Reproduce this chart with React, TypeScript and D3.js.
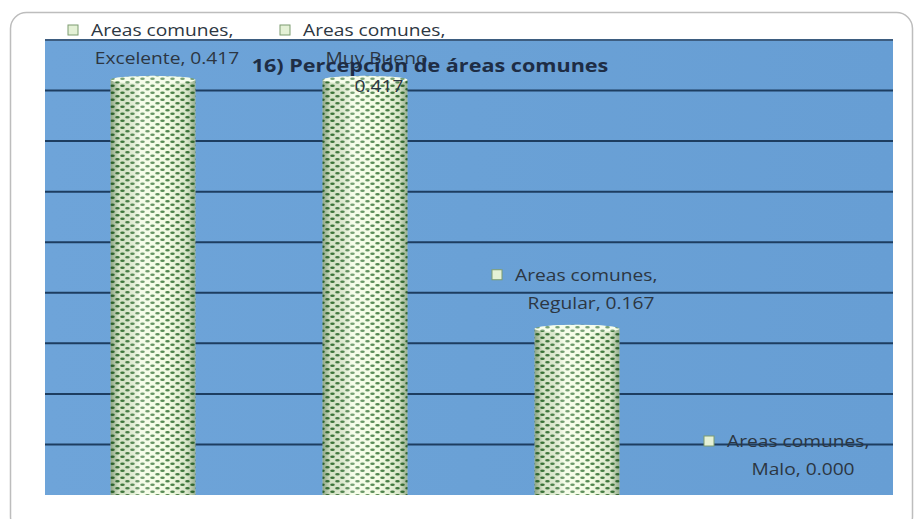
import React from "react";
import * as d3 from "d3";

const seriesName = "Areas comunes";
const categories = ["Excelente", "Muy Bueno", "Regular", "Malo"];
const values = [0.417, 0.417, 0.167, 0.0];
const wrapLabel = [false, true, false, false];
const yMax = 0.45;
const yTickStep = 0.05;
const title = "16) Percepción de áreas comunes";

const W = 915;
const H = 519;
const plot = { left: 45, right: 893, top: 40, bottom: 495 };
const frontTop = 47; // 3D front plane, bars sit slightly lower than the back wall
const SX = 1.2;
const FONT = "'Open Sans', 'DejaVu Sans', sans-serif";
const TEXT = "#2c3642";

export default function App() {
  const x = d3
    .scaleBand<string>()
    .domain(categories)
    .range([plot.left + 2, plot.right + 2])
    .paddingInner(0.6)
    .paddingOuter(0.3);
  const y = d3.scaleLinear().domain([0, yMax]).range([plot.bottom, plot.top]);
  const yBar = d3.scaleLinear().domain([0, yMax]).range([plot.bottom, frontTop]);
  const ticks = d3.range(yTickStep, yMax - 1e-9, yTickStep);
  const bw = x.bandwidth();
  const ry = 4;

  const sText = (
    tx: number,
    ty: number,
    s: string,
    anchor: string,
    opts: any = {}
  ) => (
    <text
      transform={`translate(${tx},${ty}) scale(${opts.sx ?? SX},1)`}
      textAnchor={anchor}
      fontFamily={FONT}
      fontSize={opts.size ?? 16}
      fontWeight={opts.weight ?? "normal"}
      fill={opts.fill ?? TEXT}
      dominantBaseline="central"
    >
      {s}
    </text>
  );

  return (
    <svg
      width={W}
      height={H}
      style={{ position: "absolute", left: 0, top: 0, background: "#fff" }}
    >
      <defs>
        <pattern id="dots" width={10} height={7} patternUnits="userSpaceOnUse">
          <rect width={10} height={7} fill="#f3fce2" />
          <ellipse cx={2.5} cy={1.8} rx={2.3} ry={1.3} fill="#3f7a3c" />
          <ellipse cx={7.5} cy={5.3} rx={2.3} ry={1.3} fill="#3f7a3c" />
        </pattern>
        <linearGradient id="cyl" x1="0" x2="1" y1="0" y2="0">
          <stop offset="0%" stopColor="#0f3a10" stopOpacity={0.45} />
          <stop offset="10%" stopColor="#0f3a10" stopOpacity={0.12} />
          <stop offset="35%" stopColor="#ffffff" stopOpacity={0.3} />
          <stop offset="65%" stopColor="#ffffff" stopOpacity={0.1} />
          <stop offset="90%" stopColor="#0f3a10" stopOpacity={0.12} />
          <stop offset="100%" stopColor="#0f3a10" stopOpacity={0.4} />
        </linearGradient>
        <linearGradient id="plotbg" x1="0" x2="1" y1="0" y2="0">
          <stop offset="0%" stopColor="#6ea4d9" />
          <stop offset="50%" stopColor="#6aa1d6" />
          <stop offset="100%" stopColor="#679ed4" />
        </linearGradient>
      </defs>

      <rect
        x={10.5}
        y={12.5}
        width={902}
        height={520}
        rx={16}
        fill="#fff"
        stroke="#bdbdbd"
        strokeWidth={1.5}
      />

      <rect
        x={plot.left}
        y={plot.top}
        width={plot.right - plot.left}
        height={plot.bottom - plot.top}
        fill="url(#plotbg)"
      />
      <line
        x1={plot.left}
        x2={plot.right}
        y1={plot.top}
        y2={plot.top}
        stroke="#3d5d80"
        strokeWidth={2}
      />
      {ticks.map((t) => (
        <line
          key={t}
          x1={plot.left}
          x2={plot.right}
          y1={y(t)}
          y2={y(t)}
          stroke="#1d3d60"
          strokeWidth={2}
        />
      ))}

      {categories.map((c, i) => {
        const x0 = x(c)!;
        const top = yBar(values[i]);
        const h = plot.bottom - top;
        if (h <= 0.5) return null;
        return (
          <g key={c}>
            <rect x={x0} y={top} width={bw} height={h} fill="url(#dots)" />
            <rect x={x0} y={top} width={bw} height={h} fill="url(#cyl)" />
            <ellipse
              cx={x0 + bw / 2}
              cy={top}
              rx={bw / 2}
              ry={ry}
              fill="url(#dots)"
            />
            <ellipse
              cx={x0 + bw / 2}
              cy={top}
              rx={bw / 2}
              ry={ry}
              fill="#ffffff"
              opacity={0.3}
            />
          </g>
        );
      })}

      {categories.map((c, i) => {
        const cx = x(c)! + bw / 2;
        const top = yBar(values[i]);
        const vs = values[i].toFixed(3);
        const lines = wrapLabel[i]
          ? [`${seriesName},`, `${c},`, vs]
          : [`${seriesName},`, `${c}, ${vs}`];
        const step = 28;
        let first = top - 26 - (lines.length - 1) * step;
        if (first < 30) first = 30;
        return (
          <g key={"l" + c}>
            <rect
              x={cx - 85}
              y={first - 5}
              width={10}
              height={10}
              fill="#e4f1d6"
              stroke="#7d9c70"
              strokeWidth={1}
            />
            {sText(cx - 62, first, lines[0], "start")}
            {lines.slice(1).map((l, j) =>
              sText(cx + 14, first + (j + 1) * step, l, "middle")
            )}
          </g>
        );
      })}

      {sText(430, 65, title, "middle", {
        size: 18,
        weight: "bold",
        fill: "#1e2d45",
        sx: 1.2,
      })}
    </svg>
  );
}
